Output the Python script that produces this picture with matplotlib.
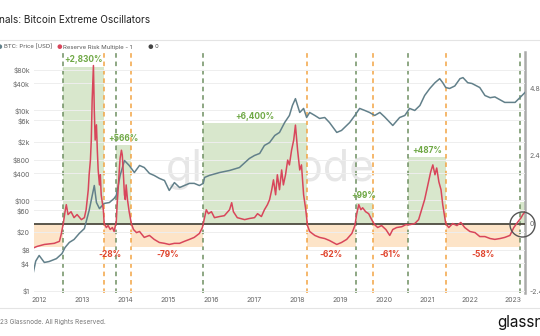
import numpy as np
import matplotlib.pyplot as plt

plt.rcParams['font.family'] = ['Inter', 'DejaVu Sans']

# BTC price (USD)
price_year = [2011.84, 2011.92, 2012.0, 2012.12, 2012.23, 2012.40, 2012.53, 2012.60, 2012.70, 2012.81,
              2012.93, 2013.05, 2013.16, 2013.28, 2013.33, 2013.40, 2013.51, 2013.63, 2013.74, 2013.79,
              2013.88, 2013.98, 2014.09, 2014.21, 2014.33, 2014.44, 2014.56, 2014.67, 2014.79, 2014.91,
              2015.02, 2015.14, 2015.26, 2015.49, 2015.60, 2015.72, 2015.81, 2015.84, 2015.95, 2016.19,
              2016.42, 2016.65, 2016.88, 2017.0, 2017.12, 2017.23, 2017.35, 2017.47, 2017.58, 2017.70,
              2017.81, 2017.88, 2017.95, 2018.05, 2018.14, 2018.21, 2018.28, 2018.40, 2018.51, 2018.63,
              2018.74, 2018.91, 2019.02, 2019.21, 2019.33, 2019.44, 2019.56, 2019.67, 2019.79, 2019.91,
              2020.02, 2020.21, 2020.37, 2020.49, 2020.60, 2020.72, 2020.84, 2020.95, 2021.07, 2021.19,
              2021.30, 2021.37, 2021.44, 2021.53, 2021.65, 2021.77, 2021.84, 2021.95, 2022.05, 2022.23,
              2022.35, 2022.47, 2022.58, 2022.81, 2023.05, 2023.16, 2023.28]
price_usd = [1.95, 4.5, 6.0, 4.2, 4.4, 5.1, 6.6, 9.0, 11.7, 13.6,
             18.5, 23.8, 60, 215, 90, 66, 86, 90, 111, 130,
             360, 774, 600, 418, 600, 540, 400, 360, 310, 278,
             167, 250, 194, 240, 240, 215, 240, 325, 360, 418,
             464, 540, 857, 1000, 1110, 1670, 1940, 2780, 3250, 5400,
             7740, 12900, 18300, 9030, 11100, 6980, 9030, 7740, 6640, 6980,
             5400, 3250, 3600, 5400, 7740, 11100, 10000, 9030, 7740, 9030,
             7200, 4640, 6980, 7740, 11100, 10000, 12900, 21500, 30800, 41400,
             50800, 41400, 32300, 30800, 35000, 50800, 53700, 41400, 39700, 32300,
             21500, 19200, 20000, 15100, 15100, 19200, 25100]

# Reserve Risk Multiple - 1 (right axis)
rr_year = [2011.84, 2011.95, 2012.12, 2012.35, 2012.47, 2012.51, 2012.56, 2012.60, 2012.63, 2012.67,
           2012.74, 2012.81, 2012.88, 2012.98, 2013.05, 2013.09, 2013.14, 2013.16, 2013.19, 2013.21,
           2013.23, 2013.26, 2013.28, 2013.30, 2013.33, 2013.35, 2013.37, 2013.40, 2013.42, 2013.44,
           2013.49, 2013.51, 2013.56, 2013.60, 2013.65, 2013.70, 2013.74, 2013.79, 2013.81, 2013.84,
           2013.86, 2013.88, 2013.91, 2013.93, 2013.95, 2013.98, 2014.0, 2014.02, 2014.05, 2014.09,
           2014.14, 2014.19, 2014.26, 2014.33, 2014.44, 2014.56, 2014.67, 2014.79, 2014.91, 2015.02,
           2015.14, 2015.26, 2015.37, 2015.49, 2015.60, 2015.72, 2015.79, 2015.84, 2015.88, 2015.93,
           2016.0, 2016.07, 2016.19, 2016.30, 2016.42, 2016.47, 2016.51, 2016.60, 2016.77, 2016.88,
           2017.0, 2017.07, 2017.16, 2017.23, 2017.30, 2017.35, 2017.40, 2017.44, 2017.49, 2017.53,
           2017.58, 2017.63, 2017.67, 2017.72, 2017.77, 2017.81, 2017.86, 2017.91, 2017.95, 2018.0,
           2018.05, 2018.09, 2018.14, 2018.19, 2018.23, 2018.28, 2018.40, 2018.51, 2018.63, 2018.74,
           2018.91, 2019.02, 2019.14, 2019.26, 2019.33, 2019.37, 2019.42, 2019.47, 2019.51, 2019.58,
           2019.65, 2019.72, 2019.79, 2019.86, 2019.95, 2020.05, 2020.14, 2020.21, 2020.30, 2020.42,
           2020.51, 2020.60, 2020.72, 2020.81, 2020.88, 2020.95, 2021.0, 2021.05, 2021.09, 2021.14,
           2021.19, 2021.23, 2021.28, 2021.33, 2021.37, 2021.44, 2021.51, 2021.60, 2021.70, 2021.79,
           2021.88, 2022.0, 2022.12, 2022.23, 2022.35, 2022.47, 2022.58, 2022.70, 2022.81, 2022.93,
           2023.02, 2023.12, 2023.19, 2023.23, 2023.28]
rr_value = [-0.88, -0.81, -0.74, -0.70, -0.63, -0.39, 0.0, 0.42, 0.67, 0.32,
            0.42, 0.21, 0.32, 0.14, 0.21, 0.49, 1.2, 1.73, 2.25, 2.96,
            4.37, 5.6, 4.0, 2.96, 3.5, 2.6, 1.9, 1.37, 1.73, 1.02,
            0.49, 0.0, -0.14, -0.07, -0.21, -0.14, -0.28, 0.07, 0.67, 1.37,
            1.9, 2.32, 2.6, 2.43, 1.9, 1.02, 0.85, 1.37, 0.85, 0.42,
            0.0, -0.21, -0.32, -0.28, -0.49, -0.42, -0.56, -0.67, -0.70, -0.74,
            -0.70, -0.70, -0.63, -0.56, -0.49, -0.35, -0.14, 0.21, 0.49, 0.35,
            0.42, 0.21, 0.25, 0.28, 0.49, 0.74, 0.42, 0.21, 0.14, 0.18,
            0.21, 0.35, 0.25, 0.49, 0.67, 0.85, 1.2, 1.55, 1.02, 1.73,
            1.2, 1.9, 1.37, 1.73, 2.25, 2.08, 2.6, 2.96, 3.49, 2.6,
            1.9, 2.08, 1.02, 0.49, -0.07, -0.28, -0.42, -0.49, -0.53, -0.60,
            -0.74, -0.67, -0.56, -0.35, -0.07, 0.32, 0.67, 0.49, 0.56, 0.42,
            0.35, 0.14, -0.04, -0.14, -0.07, -0.21, -0.42, -0.21, -0.14, -0.11,
            -0.04, -0.04, 0.0, 0.14, 0.49, 0.85, 1.2, 1.55, 1.83, 2.08,
            1.73, 1.97, 1.48, 1.2, 0.67, 0.0, -0.14, 0.0, -0.07, 0.04,
            -0.14, -0.28, -0.32, -0.46, -0.46, -0.53, -0.56, -0.53, -0.49, -0.42,
            -0.14, 0.07, 0.21, 0.32, 0.42]

# cycle signals: green (buy) start, orange (sell) start
green_starts = [2012.56, 2013.79, 2015.81, 2019.35, 2020.56, 2023.16]
green_ends = [2013.51, 2014.14, 2018.21, 2019.74, 2021.44, 2023.28]
green_tops = [5.56, 2.78, 3.56, 0.74, 2.36, 0.77]
green_labels = ["+2,830%", "+566%", "+6,400%", "+99%", "+487%", ""]
orange_starts = [2011.88, 2013.51, 2014.14, 2018.21, 2019.74, 2021.44]
orange_ends = [2012.56, 2013.79, 2015.81, 2019.35, 2020.56, 2023.16]
orange_labels = ["", "-28%", "-79%", "-62%", "-61%", "-58%"]
orange_bottom = -0.82

price_ticks = [1, 4, 8, 20, 60, 100, 400, 800, 2000, 6000, 10000, 40000, 80000]
price_tick_labels = ["$1", "$4", "$8", "$20", "$60", "$100", "$400", "$800", "$2k", "$6k", "$10k", "$40k", "$80k"]
rr_ticks = [-2.4, 0, 2.4, 4.8]
years = list(range(2012, 2024))

GREEN_FILL = "#d8e7cc"
ORANGE_FILL = "#fde4c8"
GREEN_LINE = "#6f8f62"
ORANGE_LINE = "#f2a444"
PRICE_COL = "#62808a"
RR_COL = "#d8465b"

fig = plt.figure(figsize=(5.4, 3.36), dpi=100)
ax = fig.add_axes([34/540, 1-293/336, 491/540, 241/336])
ax2 = ax.twinx()
ax.set_zorder(2)
ax2.set_zorder(1)
ax.patch.set_visible(False)

x0, x1 = 2011.88, 2023.28
ax.set_xlim(x0, x1)
ax.set_yscale("log")
ax.set_ylim(0.88, 199000)
ax2.set_ylim(-2.46, 6.08)

# watermark
fig.text(0.5, 1-181/336, "glassnode", fontsize=31, color="#e6e6e6", ha="center", va="baseline", zorder=0)

# shaded regions and dashed signal lines on right axis
for s, e, t in zip(green_starts, green_ends, green_tops):
    ax2.fill_between([s, e], 0, t, color=GREEN_FILL, lw=0, zorder=1)
for s, e in zip(orange_starts, orange_ends):
    ax2.fill_between([s, e], orange_bottom, 0, color=ORANGE_FILL, lw=0, zorder=1)
for s in green_starts:
    ax2.axvline(s, color=GREEN_LINE, ls=(0, (3, 2.5)), lw=1.1, zorder=2)
for e in green_ends[:-1]:
    ax2.axvline(e, color=ORANGE_LINE, ls=(0, (3, 2.5)), lw=1.1, zorder=2)

for t in price_ticks:
    ax.axhline(t, color="#eeeeee", lw=0.7, zorder=0)

ax2.axhline(0, color="#4d4a3f", lw=1.3, zorder=3)
ax.plot(price_year, price_usd, color=PRICE_COL, lw=1.1, zorder=3)
ax.plot(rr_year, rr_value, color=RR_COL, lw=1.1, zorder=4, transform=ax2.transData)
ax.plot([2023.2], [0], marker="o", ms=18, mfc="none", mec="#555555", mew=1.0,
        transform=ax2.transData, zorder=6, clip_on=False)

# percentage labels drawn on the top axes so they sit above the lines
for s, e, t, lab in zip(green_starts, green_ends, green_tops, green_labels):
    if lab:
        ax.text((s+e)/2, t+0.08, lab, color="#6fa845", fontsize=6, fontweight="bold",
                ha="center", va="bottom", zorder=7, transform=ax2.transData)
for s, e, lab in zip(orange_starts, orange_ends, orange_labels):
    if lab:
        ax.text((s+e)/2, orange_bottom-0.1, lab, color="#e0452e", fontsize=6, fontweight="bold",
                ha="center", va="top", zorder=7, transform=ax2.transData)

ax.set_yticks(price_ticks)
ax.set_yticklabels(price_tick_labels)
ax.minorticks_off()
ax.set_xticks(years)
ax.set_xticklabels([str(y) for y in years])
ax2.set_yticks(rr_ticks)
ax2.set_yticklabels(["-2.4", "0", "2.4", "4.8"])
for a in (ax, ax2):
    a.tick_params(length=0, labelsize=5, labelcolor="#666666", pad=3)
    for sp in a.spines.values():
        sp.set_visible(False)
ax2.spines["right"].set_visible(True)
ax2.spines["right"].set_color("#aaaaaa")
ax2.spines["right"].set_linewidth(1.8)

# header / footer
fig.text(-0.002, 0.94, "nals: Bitcoin Extreme Oscillators", fontsize=7.2, color="#222222", va="center")
fig.add_artist(plt.Line2D([0, 1], [1-40/336, 1-40/336], color="#e4e4e4", lw=0.8))
fig.add_artist(plt.Line2D([0, 1], [1-308/336, 1-308/336], color="#e4e4e4", lw=0.8))
ly = 1-47/336
fig.text(-0.006, ly, "●", color=PRICE_COL, fontsize=4.5, va="center")
fig.text(0.007, ly, "BTC: Price [USD]", color="#555555", fontsize=4.3, va="center")
fig.text(0.104, ly, "●", color=RR_COL, fontsize=4.5, va="center")
fig.text(0.116, ly, "Reserve Risk Multiple - 1", color="#555555", fontsize=4.3, va="center")
fig.text(0.274, ly, "●", color="#444444", fontsize=4.5, va="center")
fig.text(0.287, ly, "0", color="#555555", fontsize=4.3, va="center")
fig.text(0.0, 1-322/336, "23 Glassnode. All Rights Reserved.", color="#777777", fontsize=4.6, va="center")
fig.text(0.92, 1-322/336, "glassnode", color="#111111", fontsize=11, va="center")

fig.savefig("out.png", dpi=100)
